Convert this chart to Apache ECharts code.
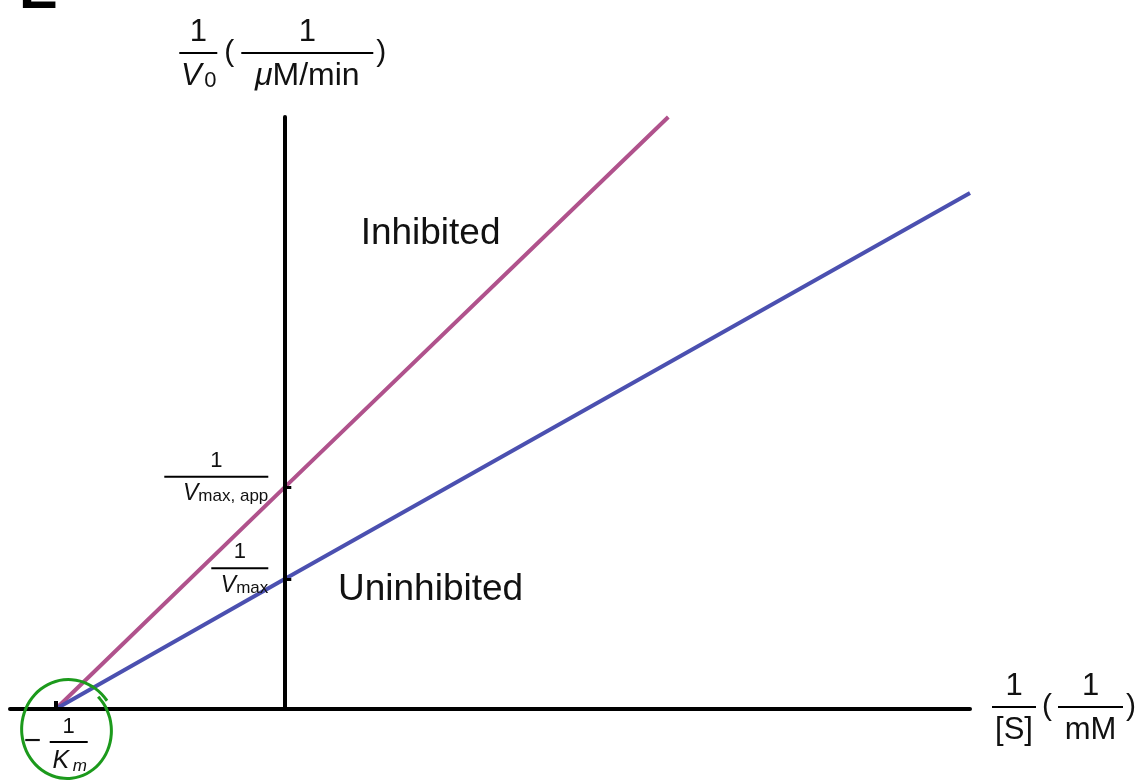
<!DOCTYPE html>
<html>
<head>
<meta charset="utf-8">
<script src="https://cdn.jsdelivr.net/npm/echarts@6/dist/echarts.min.js"></script>
<style>
  html, body { margin: 0; padding: 0; background: #fff; }
  #chart { width: 1143px; height: 780px; }
</style>
</head>
<body>
<div id="chart"></div>
<script>
// ---- values (x: 1/[S], y: 1/V0, arbitrary units) ----
const negInvKm = -1;          // x-intercept shared by both lines
const invVmax = 0.99;         // y-intercept, uninhibited
const invVmaxApp = 1.69;      // y-intercept, inhibited
const uninhibited = [[-1, 0], [0, 0.99], [3, 3.94]];
const inhibited = [[-1, 0], [0, 1.69], [1.68, 4.52]];
const xRange = [-1.2, 3];
const yRange = [0, 4.52];
const lineNames = ['Inhibited', 'Uninhibited'];
const xTickValues = [negInvKm];
const yTickValues = [invVmax, invVmaxApp];

const FONT = "'Liberation Sans', Arial, Helvetica, sans-serif";
const INK = '#111';
const PURPLE = '#b0528c';
const BLUE = '#4b50b0';
const GREEN = '#1c9a1c';

function textW(str, font) {
  const ctx = document.createElement('canvas').getContext('2d');
  ctx.font = font;
  return ctx.measureText(str).width;
}

const chart = echarts.init(document.getElementById('chart'), null, { renderer: 'canvas' });

const bar = (w) => ({ width: w, height: 2, lineHeight: 8, backgroundColor: '#000' });

// centring pads for the "μM/min" denominator under a 132px fraction bar
const muW = textW('\u03bc', "italic 32px 'Liberation Sans'");
const dW = textW('M/min', "32px 'Liberation Sans'");
const denPad = Math.max(0, (132 - muW - dW) / 2);

const option = {
  animation: false,
  backgroundColor: '#fff',
  textStyle: { fontFamily: FONT, color: INK },
  grid: { left: 10, right: 173, top: 117, bottom: 71, containLabel: false, outerBoundsMode: 'none' },
  xAxis: {
    type: 'value', z: 4,
    min: xRange[0], max: xRange[1],
    splitLine: { show: false },
    axisLine: { show: true, onZero: true, lineStyle: { color: '#000', width: 4 } },
    axisTick: { show: true, inside: true, length: 8, customValues: xTickValues,
      lineStyle: { color: '#000', width: 4 } },
    axisLabel: {
      show: true, customValues: xTickValues, margin: 7,
      align: 'center', verticalAlign: 'top',
      formatter: function (v) {
        if (Math.abs(v - negInvKm) < 1e-6) {
          return '{mw|}{n|1}\n{mi|\u2212}{b|}\n{mw|}{k|K}{ks|m}';
        }
        return '';
      },
      rich: {
        mw: { width: 26, lineHeight: 22 },
        n: { width: 38, align: 'center', fontSize: 22, lineHeight: 22, color: INK, fontFamily: FONT },
        mi: { width: 26, align: 'left', fontSize: 30, lineHeight: 8, color: INK, fontFamily: FONT },
        b: bar(38),
        k: { width: 22, align: 'right', fontSize: 25, fontStyle: 'italic', lineHeight: 30, color: INK, fontFamily: FONT },
        ks: { width: 16, align: 'left', fontSize: 17, fontStyle: 'italic', lineHeight: 30, padding: [10, 0, 0, 0], color: INK, fontFamily: FONT }
      }
    },
    name: '{n1|1}{pg|}{n2|1}{pe|}\n{b1|}{p|(}{b2|}{p2|)}\n{s|[S]}{pg|}{mm|mM}{pe|}',
    nameLocation: 'end',
    nameGap: 22,
    nameTextStyle: {
      align: 'left', verticalAlign: 'middle',
      rich: {
        n1: { width: 44, align: 'center', fontSize: 31, lineHeight: 34, color: INK, fontFamily: FONT },
        n2: { width: 65, align: 'center', fontSize: 31, lineHeight: 34, color: INK, fontFamily: FONT },
        pg: { width: 22, lineHeight: 34 },
        pe: { width: 16, lineHeight: 34 },
        b1: bar(44),
        b2: bar(65),
        p: { width: 22, align: 'center', fontSize: 30, lineHeight: 8, color: INK, fontFamily: FONT },
        p2: { width: 16, align: 'center', fontSize: 30, lineHeight: 8, color: INK, fontFamily: FONT },
        s: { width: 44, align: 'center', fontSize: 31, lineHeight: 38, color: INK, fontFamily: FONT },
        mm: { width: 65, align: 'center', fontSize: 31, lineHeight: 38, color: INK, fontFamily: FONT }
      }
    }
  },
  yAxis: {
    type: 'value', z: 4,
    min: yRange[0], max: yRange[1],
    splitLine: { show: false },
    axisLine: { show: true, onZero: true, lineStyle: { color: '#000', width: 4 } },
    axisTick: { show: true, inside: true, length: 7, customValues: yTickValues,
      lineStyle: { color: '#000', width: 3 } },
    axisLabel: { show: false },
    name: '{n1|1}{pg|}{n2|1}{pe|}\n{b1|}{p|(}{b2|}{p2|)}\n{v|V}{v0|0}{pg|}{ml|}{mu|\u03bc}{d|M/min}{ml|}{pe|}',
    nameLocation: 'end',
    nameGap: 22,
    nameTextStyle: {
      align: 'center', verticalAlign: 'bottom',
      rich: {
        n1: { width: 38, align: 'center', fontSize: 31, lineHeight: 34, color: INK, fontFamily: FONT },
        n2: { width: 132, align: 'center', fontSize: 31, lineHeight: 34, color: INK, fontFamily: FONT },
        pg: { width: 24, lineHeight: 34 },
        pe: { width: 16, lineHeight: 34 },
        b1: bar(38),
        b2: bar(132),
        p: { width: 24, align: 'center', fontSize: 30, lineHeight: 8, color: INK, fontFamily: FONT },
        p2: { width: 16, align: 'center', fontSize: 30, lineHeight: 8, color: INK, fontFamily: FONT },
        v: { width: 24, align: 'right', fontSize: 31, fontStyle: 'italic', lineHeight: 38, color: INK, fontFamily: FONT },
        v0: { width: 14, align: 'left', fontSize: 22, lineHeight: 38, padding: [10, 0, 0, 0], color: INK, fontFamily: FONT },
        ml: { width: denPad, lineHeight: 38 },
        mu: { fontSize: 32, fontStyle: 'italic', lineHeight: 38, color: INK, fontFamily: FONT },
        d: { fontSize: 32, lineHeight: 38, color: INK, fontFamily: FONT }
      }
    }
  },
  graphic: [
    { type: 'text', left: 19, top: -37, silent: true,
      style: { text: 'E', fontSize: 58, fontWeight: 'bold', fontFamily: FONT, fill: '#000' } }
  ],
  series: [
    {
      name: lineNames[0], type: 'line', data: inhibited,
      showSymbol: false, symbol: 'none', clip: false,
      lineStyle: { color: PURPLE, width: 4 },
      markPoint: {
        symbol: 'circle', symbolSize: 0,
        data: [{ coord: [0.64, 3.63], value: lineNames[0] }],
        label: { show: true, position: 'inside', formatter: '{c}', fontSize: 37, color: INK, fontFamily: FONT }
      },
      z: 3
    },
    {
      name: lineNames[1], type: 'line', data: uninhibited,
      showSymbol: false, symbol: 'none', clip: false,
      lineStyle: { color: BLUE, width: 4 },
      markPoint: {
        symbol: 'circle', symbolSize: 0,
        data: [{ coord: [0.64, 0.91], value: lineNames[1] }],
        label: { show: true, position: 'inside', formatter: '{c}', fontSize: 37, color: INK, fontFamily: FONT }
      },
      z: 3
    },
    {
      // tick labels of the y axis (1/Vmax,app and 1/Vmax), attached at x = 0
      type: 'scatter', symbolSize: 0, silent: true, z: 4,
      itemStyle: { opacity: 1 },
      data: yTickValues.map(v => [0, v]),
      label: {
        show: true, position: 'left', distance: 16, offset: [0, -10],
        align: 'right', verticalAlign: 'middle', opacity: 1, color: INK,
        formatter: function (p) {
          const v = p.value[1];
          if (Math.abs(v - invVmaxApp) < 1e-6) return '{na|1}\n{ba|}\n{v|V}{s|max, app}';
          return '{nb|1}\n{bb|}\n{v|V}{s|max}';
        },
        rich: {
          na: { width: 104, align: 'center', fontSize: 22, lineHeight: 24, color: INK, fontFamily: FONT },
          nb: { width: 57, align: 'center', fontSize: 22, lineHeight: 24, color: INK, fontFamily: FONT },
          ba: bar(104),
          bb: bar(57),
          v: { fontSize: 23, fontStyle: 'italic', lineHeight: 26, color: INK, fontFamily: FONT },
          s: { fontSize: 17, lineHeight: 26, padding: [6, 0, 0, 0], color: INK, fontFamily: FONT }
        }
      }
    },
    {
      // hand-drawn green loop around the -1/Km intercept
      type: 'custom', clip: false, silent: true, z: 5,
      data: [[negInvKm, 0]],
      renderItem: function (params, api) {
        const c = api.coord([api.value(0), api.value(1)]);
        const cx = c[0] + 12, cy = c[1] + 21;
        const pts = [];
        const start = -35, end = -35 - 375;
        for (let a = start; a >= end; a -= 10) {
          const f = (a - start) / (end - start);
          const rx = 48 - 5 * f, ry = 51 - 4 * f;
          const r = a * Math.PI / 180;
          pts.push([cx + rx * Math.cos(r), cy + ry * Math.sin(r)]);
        }
        return {
          type: 'polyline',
          shape: { points: pts, smooth: 0.4 },
          style: { stroke: GREEN, lineWidth: 3, fill: null }
        };
      }
    }
  ]
};

chart.setOption(option);
</script>
</body>
</html>
